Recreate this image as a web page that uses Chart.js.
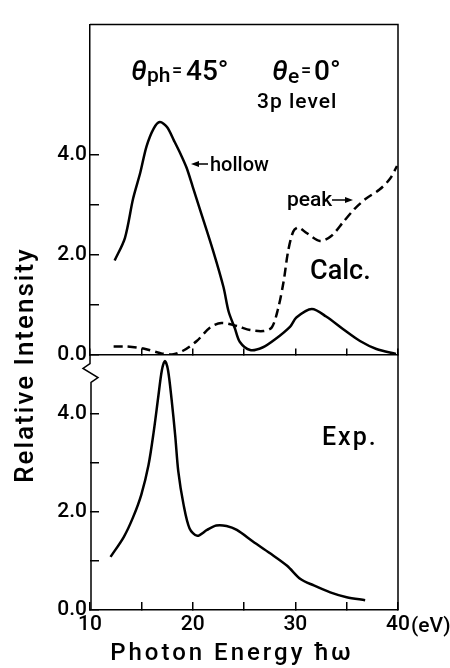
<!DOCTYPE html>
<html>
<head>
<meta charset="utf-8">
<script src="https://cdn.jsdelivr.net/npm/chart.js@4.4.1/dist/chart.umd.min.js"></script>
<style>
  html, body { margin: 0; padding: 0; background: #fff; }
</style>
</head>
<body>
<canvas id="chart" width="450" height="668"></canvas>
<script>
// calculated, "hollow" (solid) and "peak" (dashed), upper panel
const hollowE = [12.4, 13.4, 14.2, 14.9, 15.5, 16.2, 16.8, 17.5, 18.2, 18.8, 19.4, 20.0, 20.7, 22.0, 23.0, 23.5, 24.1, 24.6, 25.6, 26.8, 28.0, 29.5, 30.1, 31.6, 33.0, 34.7, 36.3, 37.9, 39.8];
const hollowI = [1.88, 2.33, 3.12, 3.64, 4.16, 4.52, 4.65, 4.55, 4.27, 4.02, 3.74, 3.36, 2.91, 2.07, 1.35, 0.86, 0.53, 0.25, 0.09, 0.14, 0.30, 0.56, 0.74, 0.91, 0.76, 0.50, 0.27, 0.11, 0.01];

const peakE = [12.3, 13.6, 15.2, 16.8, 18.0, 19.1, 20.4, 21.7, 22.8, 24.3, 25.6, 26.9, 27.7, 28.3, 28.85, 29.3, 29.8, 30.3, 31.1, 32.4, 33.5, 34.7, 35.8, 36.9, 38.2, 39.2, 39.9];
const peakI = [0.16, 0.16, 0.12, 0.03, 0.0, 0.08, 0.27, 0.54, 0.63, 0.57, 0.49, 0.47, 0.54, 0.90, 1.45, 2.07, 2.46, 2.54, 2.43, 2.27, 2.37, 2.66, 2.92, 3.12, 3.30, 3.51, 3.77];

// experiment, lower panel
const expE = [12.0, 13.3, 14.2, 15.0, 15.7, 16.2, 16.65, 17.0, 17.3, 17.6, 17.95, 18.3, 18.6, 19.1, 19.7, 20.45, 21.4, 22.3, 23.3, 24.3, 25.9, 27.5, 29.2, 30.5, 31.8, 33.4, 35.0, 36.8];
const expI = [1.08, 1.49, 1.89, 2.35, 2.95, 3.62, 4.34, 4.88, 5.07, 4.88, 4.28, 3.55, 2.82, 2.16, 1.66, 1.51, 1.63, 1.72, 1.71, 1.63, 1.39, 1.16, 0.90, 0.63, 0.50, 0.36, 0.26, 0.20];

const xTicks = [10, 15, 20, 25, 30, 35, 40];
const xTickLabels = ['10', '', '20', '', '30', '', '40'];
const yTicks = [0, 1, 2, 3, 4];
const yTickLabels = ['0.0', '', '2.0', '', '4.0'];
const calcMax = 6.6;
const expMax = 5.2;

const FONT = 'Roboto';
const toPoints = (xs, ys) => xs.map((x, i) => ({ x: x, y: ys[i] }));

const line = {
  borderColor: '#000',
  borderWidth: 2.5,
  pointRadius: 0,
  fill: false,
  tension: 0.3,
};

const setX = s => { s.ticks = xTicks.map(v => ({ value: v })); };
const setY = s => { s.ticks = yTicks.map(v => ({ value: v })); };

const tickFont = { family: FONT, size: 21, weight: 500 };

const yAxis = (max, weight, stackWeight, showBorder) => ({
  type: 'linear',
  min: 0,
  max: max,
  position: 'left',
  stack: 'panels',
  stackWeight: stackWeight,
  weight: weight,
  afterBuildTicks: setY,
  afterFit: s => { s.width = 90; },
  grid: { drawOnChartArea: false, tickLength: -9, color: '#000', lineWidth: 1.5 },
  border: { display: showBorder, color: '#000', width: 1.5 },
  ticks: {
    color: '#000',
    font: tickFont,
    padding: 12,
    callback: v => yTickLabels[yTicks.indexOf(v)],
  },
});

const drawText = (ctx, s, x, y, font, spacing) => {
  ctx.font = font;
  ctx.letterSpacing = (spacing || 0) + 'px';
  ctx.fillText(s, x, y);
};

const decorPlugin = {
  id: 'decor',
  afterDraw(chart) {
    const { ctx, chartArea: a, scales } = chart;
    const mid = scales.y.bottom;
    ctx.save();
    ctx.strokeStyle = '#000';
    ctx.fillStyle = '#000';
    ctx.lineWidth = 1.5;

    // top and right edges of the frame
    ctx.beginPath();
    ctx.moveTo(a.left, a.top);
    ctx.lineTo(a.right, a.top);
    ctx.lineTo(a.right, a.bottom);
    ctx.stroke();

    // broken left axis of the lower panel
    ctx.beginPath();
    ctx.moveTo(a.left, mid);
    ctx.lineTo(a.left, mid + 9);
    ctx.lineTo(a.left - 7, mid + 14);
    ctx.lineTo(a.left + 8, mid + 23);
    ctx.lineTo(a.left + 1, mid + 28);
    ctx.lineTo(a.left + 1, a.bottom);
    ctx.stroke();

    // arrows for labels
    ctx.lineWidth = 1.3;
    ctx.beginPath();
    ctx.moveTo(196, 164); ctx.lineTo(208, 164);
    ctx.moveTo(332, 200); ctx.lineTo(348, 200);
    ctx.stroke();
    ctx.beginPath();
    ctx.moveTo(191, 164); ctx.lineTo(199, 161); ctx.lineTo(199, 167); ctx.closePath();
    ctx.moveTo(353, 200); ctx.lineTo(345, 197); ctx.lineTo(345, 203); ctx.closePath();
    ctx.fill();

    ctx.textAlign = 'left';
    ctx.textBaseline = 'alphabetic';
    drawText(ctx, 'θ', 131, 80, 'italic 500 28px ' + FONT);
    drawText(ctx, 'ph', 147, 82, '500 21px ' + FONT);
    drawText(ctx, '=', 172, 76, '500 18px ' + FONT);
    drawText(ctx, '45°', 186, 80, '500 28px ' + FONT);
    drawText(ctx, 'θ', 272, 80, 'italic 500 28px ' + FONT);
    drawText(ctx, 'e', 288, 83, '500 21px ' + FONT);
    drawText(ctx, '=', 301, 76, '500 18px ' + FONT);
    drawText(ctx, '0°', 314, 80, '500 28px ' + FONT);
    drawText(ctx, '3p level', 257, 108, '500 21px ' + FONT, 1);
    drawText(ctx, 'hollow', 210, 171, '500 20px ' + FONT);
    drawText(ctx, 'peak', 287, 206, '500 21px ' + FONT);
    drawText(ctx, 'Calc.', 310, 279, '500 27px ' + FONT);
    drawText(ctx, 'Exp.', 322, 445, '500 25px ' + FONT, 2);
    drawText(ctx, '(eV)', scales.x.getPixelForValue(40) + 13, 632, '500 21px ' + FONT);

    ctx.textAlign = 'center';
    drawText(ctx, 'Photon Energy ħω', 232, 660, '500 24px ' + FONT, 3);

    ctx.translate(26, 365);
    ctx.rotate(-Math.PI / 2);
    ctx.textBaseline = 'middle';
    drawText(ctx, 'Relative Intensity', 0, 0, '500 26px ' + FONT, 2);
    ctx.restore();
  },
};

new Chart(document.getElementById('chart'), {
  type: 'line',
  data: {
    datasets: [
      Object.assign({ label: 'hollow', data: toPoints(hollowE, hollowI), yAxisID: 'y' }, line),
      Object.assign({ label: 'peak', data: toPoints(peakE, peakI), yAxisID: 'y', borderDash: [9, 5] }, line),
      Object.assign({ label: 'Exp.', data: toPoints(expE, expI), yAxisID: 'y2' }, line),
    ],
  },
  options: {
    responsive: false,
    devicePixelRatio: 1,
    animation: false,
    layout: { padding: { top: 12, right: 52, left: 0, bottom: 0 } },
    plugins: {
      legend: { display: false },
      tooltip: { enabled: false },
    },
    scales: {
      x: {
        type: 'linear',
        min: 10,
        max: 40,
        afterBuildTicks: setX,
        afterFit: s => { s.height = 58; },
        grid: { drawOnChartArea: false, tickLength: -8, color: '#000', lineWidth: 1.5 },
        border: { color: '#000', width: 1.5 },
        ticks: {
          color: '#000',
          font: tickFont,
          padding: 10,
          maxRotation: 0,
          autoSkip: false,
          callback: v => xTickLabels[xTicks.indexOf(v)],
        },
      },
      x2: {
        type: 'linear',
        axis: 'x',
        min: 10,
        max: 40,
        position: { y: 0 },
        afterBuildTicks: setX,
        grid: { drawOnChartArea: false, tickLength: -7, color: '#000', lineWidth: 1.5 },
        border: { color: '#000', width: 1.5 },
        ticks: { display: false },
      },
      y: yAxis(calcMax, 2, 337, true),
      y2: yAxis(expMax, 1, 261, false),
    },
  },
  plugins: [decorPlugin],
});
</script>
</body>
</html>
